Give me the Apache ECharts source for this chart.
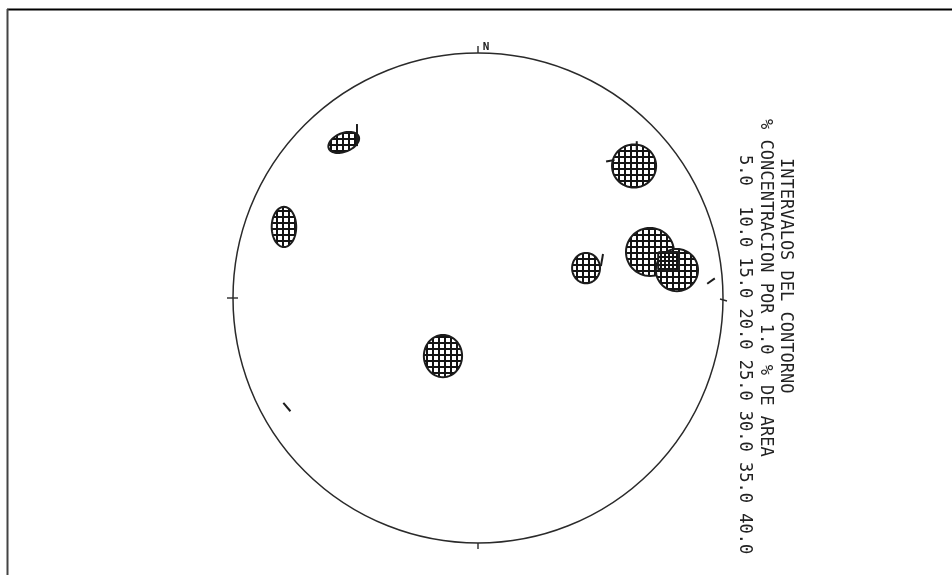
<!DOCTYPE html>
<html>
<head>
<meta charset="utf-8">
<script src="https://cdn.jsdelivr.net/npm/echarts@6/dist/echarts.min.js"></script>
<style>
html,body{margin:0;padding:0;background:#fff;}
#chart{width:952px;height:575px;}
</style>
</head>
<body>
<div id="chart"></div>
<script>
// Contour patches (net coordinates, radius of net = 1)
const blobX    = [-0.548, -0.792, 0.637, 0.702, 0.812, 0.441, -0.143];
const blobY    = [ 0.635,  0.290, 0.539, 0.188, 0.114, 0.122, -0.237];
const blobRx   = [ 0.066,  0.050, 0.090, 0.098, 0.086, 0.057,  0.078];
const blobRy   = [ 0.038,  0.082, 0.088, 0.098, 0.086, 0.062,  0.086];
const blobTilt = [ 22,     0,     0,     0,     0,     0,      0];
// Higher-concentration cores
const coreX = [0.778];
const coreY = [0.150];
const coreW = [0.085];
const coreH = [0.075];
// Isolated small contour fragments
const fragX     = [0.506, 0.951, -0.780, -0.494, 0.648, 0.540];
const fragY     = [0.155, 0.069, -0.445, 0.665, 0.620, 0.560];
const fragLen   = [0.050, 0.038, 0.045, 0.090, 0.040, 0.035];
const fragAngle = [80, 35, -50, 90, 90, 10];
// Legend
const legendTitle = 'INTERVALOS DEL CONTORNO';
const legendSub = '% CONCENTRACION POR 1.0 % DE AREA';
const contourLevels = ['5.0', '10.0', '15.0', '20.0', '25.0', '30.0', '35.0', '40.0'];

function makePattern(step, line) {
  const c = document.createElement('canvas');
  c.width = step; c.height = step;
  const g = c.getContext('2d');
  g.fillStyle = '#ffffff'; g.fillRect(0, 0, step, step);
  g.fillStyle = '#141414';
  g.fillRect(0, 0, step, line);
  g.fillRect(0, 0, line, step);
  return c;
}
const hatch = { image: makePattern(6, 2), repeat: 'repeat' };
const hatchDense = { image: makePattern(4, 2), repeat: 'repeat' };

const chart = echarts.init(document.getElementById('chart'), null, { renderer: 'canvas' });

const blobData = blobX.map((x, i) => [x, blobY[i], blobRx[i], blobRy[i], blobTilt[i]]);
const coreData = coreX.map((x, i) => [x, coreY[i], coreW[i], coreH[i]]);
const fragData = fragX.map((x, i) => [x, fragY[i], fragLen[i], fragAngle[i]]);

const levelsText = contourLevels[0] + '  ' + contourLevels.slice(1).join(' ');

chart.setOption({
  backgroundColor: '#ffffff',
  animation: false,
  grid: { left: 233, top: 53, width: 490, height: 490 },
  xAxis: { type: 'value', min: -1, max: 1, show: false },
  yAxis: { type: 'value', min: -1, max: 1, show: false },
  series: [
    {
      type: 'custom',
      name: 'net',
      data: [[0, 0, 1]],
      renderItem: function (params, api) {
        const c = api.coord([api.value(0), api.value(1)]);
        const r = api.size([api.value(2), 0])[0];
        const st = { stroke: '#2a2a2a', lineWidth: 1.4 };
        return {
          type: 'group',
          children: [
            { type: 'circle', shape: { cx: c[0], cy: c[1], r: r }, style: { fill: 'none', stroke: '#2a2a2a', lineWidth: 1.5 } },
            { type: 'line', shape: { x1: c[0], y1: c[1] - r, x2: c[0], y2: c[1] - r - 7 }, style: st },
            { type: 'line', shape: { x1: c[0], y1: c[1] + r, x2: c[0], y2: c[1] + r + 6 }, style: st },
            { type: 'line', shape: { x1: c[0] - r - 6, y1: c[1], x2: c[0] - r + 5, y2: c[1] }, style: st },
            { type: 'line', shape: { x1: c[0] + r - 3, y1: c[1] + 1, x2: c[0] + r + 4, y2: c[1] + 3 }, style: st },
            { type: 'text', style: { x: c[0] + 8, y: c[1] - r - 6, text: 'N', fill: '#222', font: 'bold 11px "DejaVu Sans Mono"', align: 'center', verticalAlign: 'middle' } }
          ]
        };
      }
    },
    {
      type: 'custom',
      name: 'contours',
      data: blobData,
      renderItem: function (params, api) {
        const c = api.coord([api.value(0), api.value(1)]);
        const s = api.size([api.value(2), api.value(3)]);
        const t = api.value(4) * Math.PI / 180;
        const pts = [];
        for (let i = 0; i < 60; i++) {
          const a = i / 60 * Math.PI * 2;
          const ex = s[0] * Math.cos(a), ey = s[1] * Math.sin(a);
          pts.push([c[0] + ex * Math.cos(t) - ey * Math.sin(t), c[1] - (ex * Math.sin(t) + ey * Math.cos(t))]);
        }
        return { type: 'polygon', shape: { points: pts }, style: { fill: hatch, stroke: '#1c1c1c', lineWidth: 2 } };
      }
    },
    {
      type: 'custom',
      name: 'cores',
      data: coreData,
      renderItem: function (params, api) {
        const c = api.coord([api.value(0), api.value(1)]);
        const s = api.size([api.value(2), api.value(3)]);
        return { type: 'rect', shape: { x: c[0] - s[0] / 2, y: c[1] - s[1] / 2, width: s[0], height: s[1], r: 2 }, style: { fill: hatchDense, stroke: '#1c1c1c', lineWidth: 2 } };
      }
    },
    {
      type: 'custom',
      name: 'fragments',
      data: fragData,
      renderItem: function (params, api) {
        const c = api.coord([api.value(0), api.value(1)]);
        const L = api.size([api.value(2), 0])[0] / 2;
        const a = api.value(3) * Math.PI / 180;
        return { type: 'line', shape: { x1: c[0] - L * Math.cos(a), y1: c[1] + L * Math.sin(a), x2: c[0] + L * Math.cos(a), y2: c[1] - L * Math.sin(a) }, style: { stroke: '#1c1c1c', lineWidth: 2 } };
      }
    }
  ],
  graphic: [
    { type: 'line', shape: { x1: 7, y1: 9.5, x2: 952, y2: 9.5 }, style: { stroke: '#000', lineWidth: 2 } },
    { type: 'line', shape: { x1: 7.5, y1: 9, x2: 7.5, y2: 575 }, style: { stroke: '#444', lineWidth: 2 } },
    { type: 'text', x: 785, y: 158, rotation: -Math.PI / 2, style: { text: legendTitle, font: '17px "DejaVu Sans Mono"', fill: '#222', textAlign: 'left', textVerticalAlign: 'middle' } },
    { type: 'text', x: 765, y: 119, rotation: -Math.PI / 2, style: { text: legendSub, font: '17px "DejaVu Sans Mono"', fill: '#222', textAlign: 'left', textVerticalAlign: 'middle' } },
    { type: 'text', x: 744, y: 155, rotation: -Math.PI / 2, style: { text: levelsText, font: '17px "DejaVu Sans Mono"', fill: '#222', textAlign: 'left', textVerticalAlign: 'middle' } }
  ]
});
</script>
</body>
</html>
